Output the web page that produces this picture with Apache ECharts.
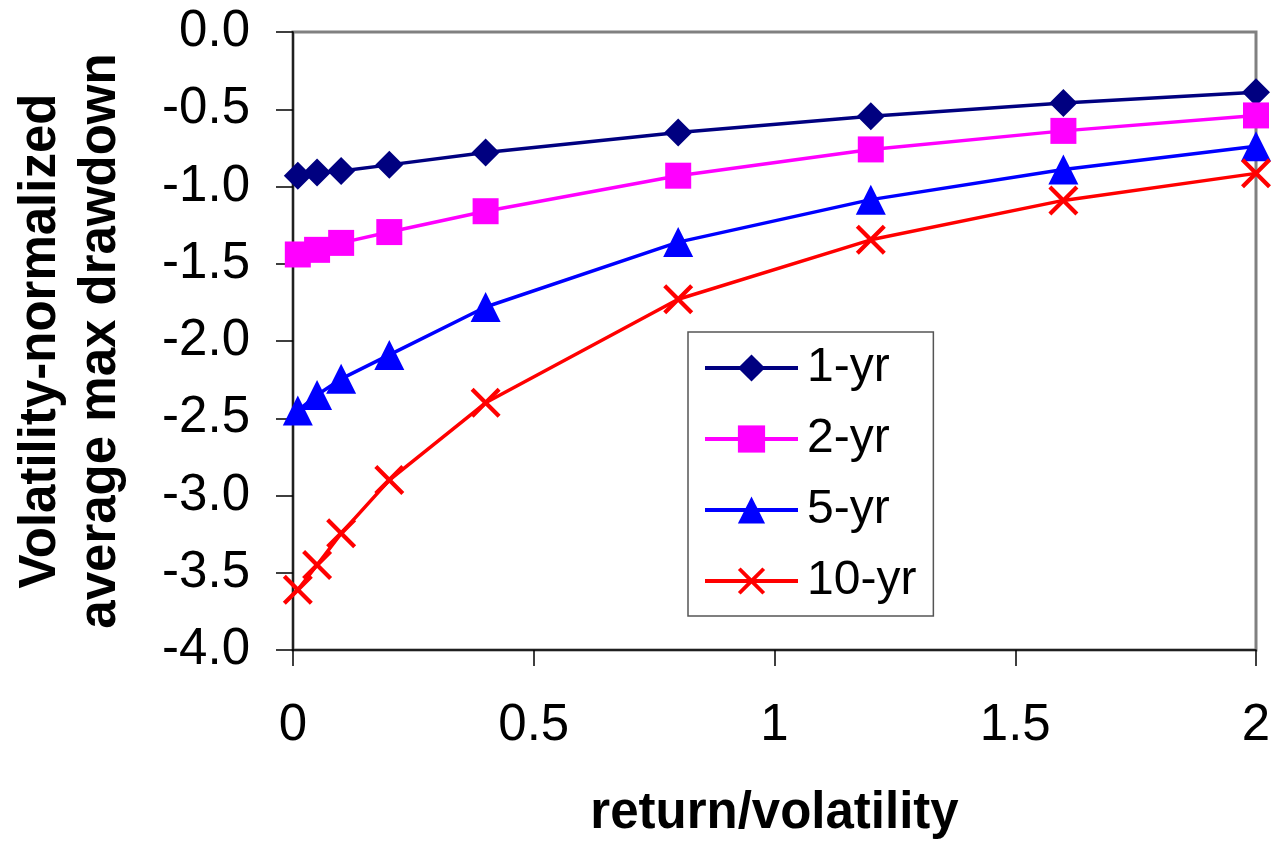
<!DOCTYPE html>
<html>
<head>
<meta charset="utf-8">
<script src="https://cdn.jsdelivr.net/npm/echarts@6/dist/echarts.min.js"></script>
<style>
  html, body { margin: 0; padding: 0; background: #ffffff; }
  #chart { width: 1274px; height: 845px; }
</style>
</head>
<body>
<div id="chart"></div>
<script>
// return/volatility sample points
const returnOverVol = [0.01, 0.05, 0.1, 0.2, 0.4, 0.8, 1.2, 1.6, 2.0];

// Volatility-normalized average max drawdown per horizon
const dd1yr  = [-0.93, -0.91, -0.90, -0.86, -0.78, -0.65, -0.545, -0.46, -0.39];
const dd2yr  = [-1.44, -1.41, -1.365, -1.295, -1.16, -0.93, -0.76, -0.64, -0.54];
const dd5yr  = [-2.45, -2.35, -2.245, -2.09, -1.78, -1.36, -1.085, -0.89, -0.74];
const dd10yr = [-3.61, -3.45, -3.245, -2.90, -2.40, -1.73, -1.345, -1.09, -0.915];

const seriesNames = ['1-yr', '2-yr', '5-yr', '10-yr'];

const bodyFont = '"Liberation Sans", Arial, Helvetica, sans-serif';

// thick "x" marker drawn as a filled outline
const crossPath = 'path://M0,1 L1,0 L5,4 L9,0 L10,1 L6,5 L10,9 L9,10 L5,6 L1,10 L0,9 L4,5 Z';

function pairs(ys) {
  return returnOverVol.map((x, i) => [x, ys[i]]);
}

function lineSeries(name, ys, color, symbol, size) {
  return {
    name: name,
    type: 'line',
    data: pairs(ys),
    symbol: symbol,
    symbolSize: size,
    clip: false,
    lineStyle: { color: color, width: 3.5 },
    itemStyle: { color: color },
    emphasis: { disabled: true },
    animation: false
  };
}

const chart = echarts.init(document.getElementById('chart'), null, { renderer: 'canvas' });

chart.setOption({
  backgroundColor: '#ffffff',
  animation: false,
  grid: {
    left: 293, top: 32, right: 18, bottom: 195,
    containLabel: false,
    outerBoundsMode: 'none',
    show: true,
    borderColor: '#808080',
    borderWidth: 3,
    backgroundColor: '#ffffff'
  },
  legend: {
    orient: 'vertical',
    left: 688,
    top: 332,
    padding: [12, 17, 11, 15],
    itemGap: 23,
    itemWidth: 93,
    itemHeight: 34,
    backgroundColor: '#ffffff',
    borderColor: '#555555',
    borderWidth: 1.5,
    borderRadius: 0,
    lineStyle: { width: 4 },
    textStyle: { fontFamily: bodyFont, fontSize: 48, color: '#000000', padding: [0, 0, 0, 4] },
    data: seriesNames
  },
  xAxis: {
    type: 'value',
    min: 0,
    max: 2,
    interval: 0.5,
    name: 'return/volatility',
    nameLocation: 'middle',
    nameGap: 138,
    nameTextStyle: { fontFamily: bodyFont, fontWeight: 'bold', fontSize: 51, color: '#000000' },
    axisLine: { show: true, onZero: false, lineStyle: { color: '#000000', width: 1.5 } },
    axisTick: { show: true, inside: false, length: 16, lineStyle: { color: '#000000', width: 1.5 } },
    axisLabel: { fontFamily: bodyFont, fontSize: 51, color: '#000000', margin: 50 },
    splitLine: { show: false }
  },
  yAxis: {
    type: 'value',
    min: -4,
    max: 0,
    interval: 0.5,
    name: 'Volatility-normalized\naverage max drawdown',
    nameLocation: 'middle',
    nameRotate: 90,
    nameGap: 162,
    nameTextStyle: { fontFamily: bodyFont, fontWeight: 'bold', fontSize: 51, lineHeight: 60, color: '#000000' },
    axisLine: { show: true, onZero: false, lineStyle: { color: '#000000', width: 1.5 } },
    axisTick: { show: true, inside: false, length: 17, lineStyle: { color: '#000000', width: 1.5 } },
    axisLabel: {
      fontFamily: bodyFont, fontSize: 51, color: '#000000', margin: 43,
      formatter: v => v.toFixed(1)
    },
    splitLine: { show: false }
  },
  series: [
    lineSeries(seriesNames[0], dd1yr, '#000080', 'diamond', 28),
    lineSeries(seriesNames[1], dd2yr, '#ff00ff', 'rect', 26),
    lineSeries(seriesNames[2], dd5yr, '#0000ff', 'triangle', 30),
    lineSeries(seriesNames[3], dd10yr, '#ff0000', crossPath, 30)
  ]
});
</script>
</body>
</html>
